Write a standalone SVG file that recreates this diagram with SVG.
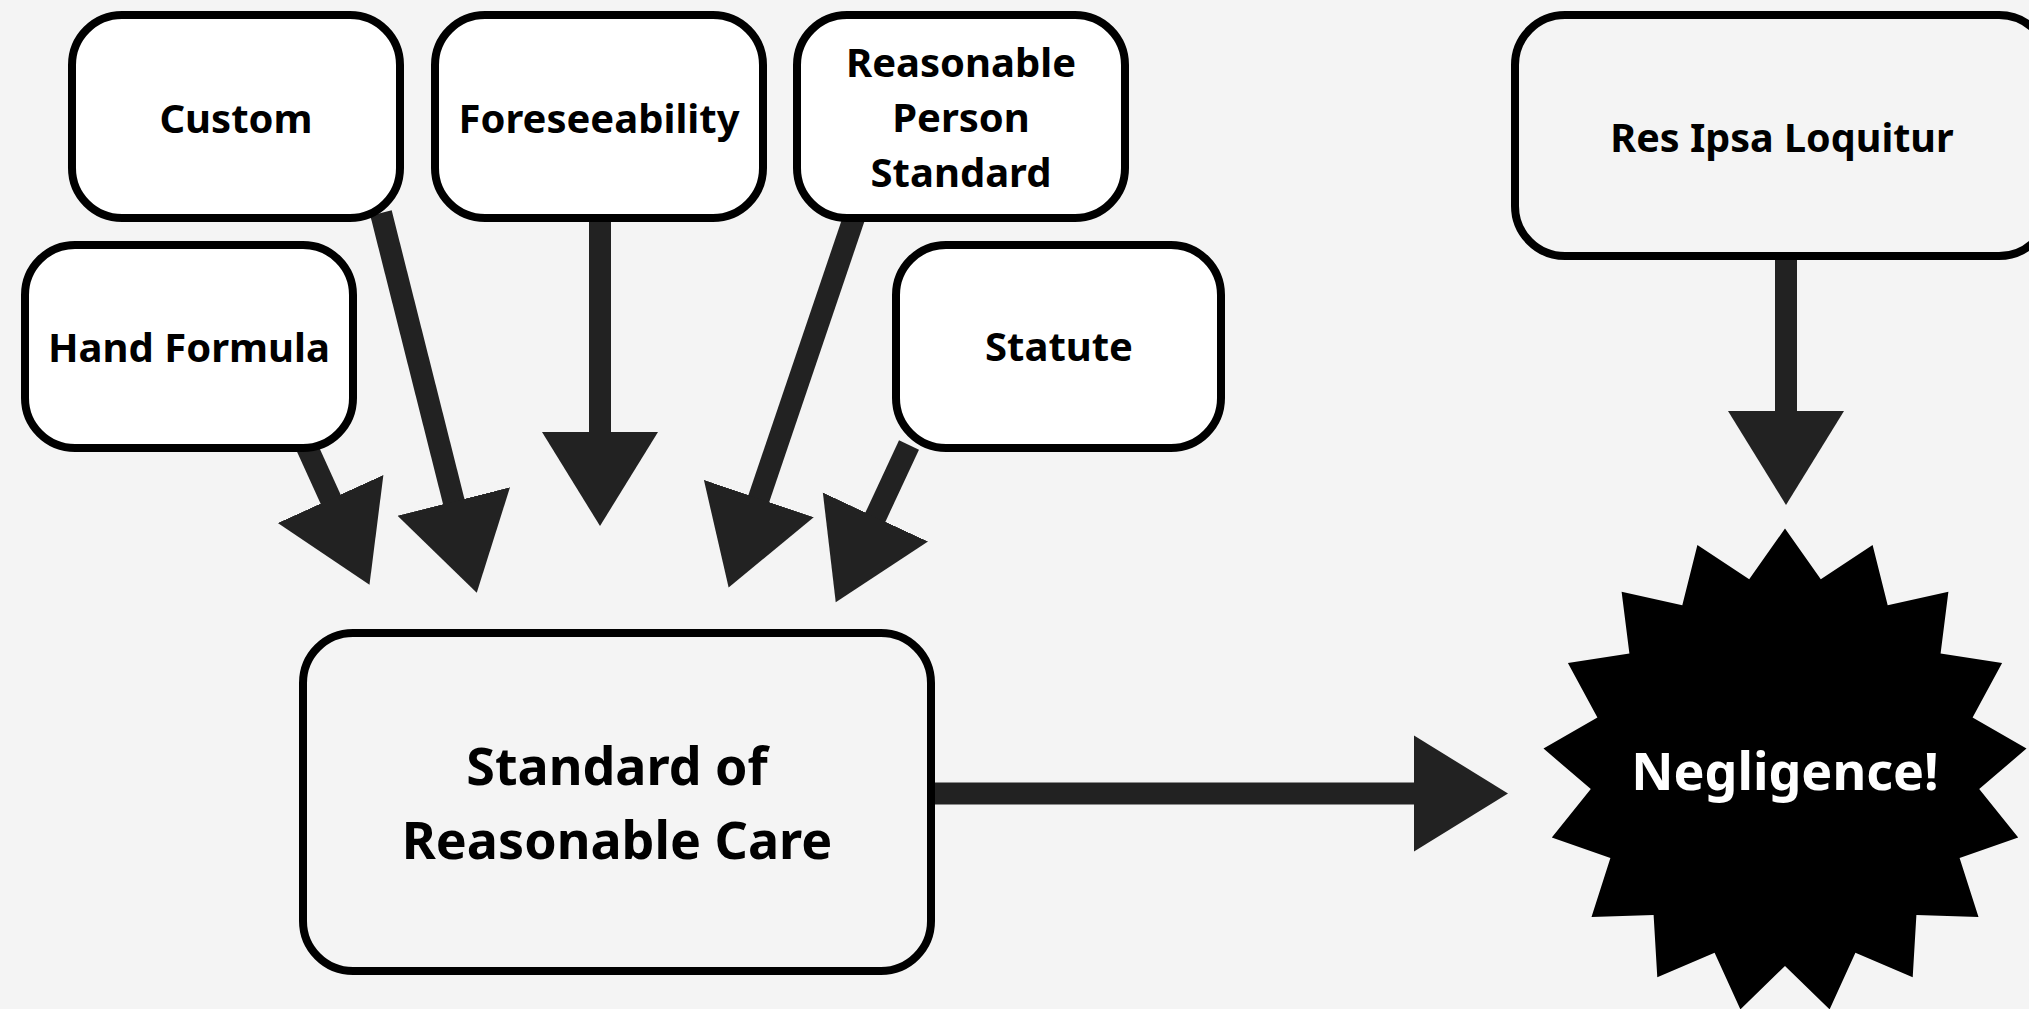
<svg xmlns="http://www.w3.org/2000/svg" width="2029" height="1009" viewBox="0 0 2029 1009">
<style>
.bg{fill:#f4f4f4}
.box{fill:#ffffff;stroke:#000000;stroke-width:8}
.boxg{fill:#f4f4f4;stroke:#000000;stroke-width:8}
.lbl{font-family:"Noto Sans","Liberation Sans",sans-serif;font-weight:700;font-size:40px;fill:#000000;text-anchor:middle}
.big{font-size:52px}
.neg{fill:#ffffff;font-size:52px}
.conn{stroke:#222222;stroke-width:22;fill:none;marker-end:url(#ah)}
</style>
<defs>
<marker id="ah" markerUnits="userSpaceOnUse" markerWidth="96" markerHeight="118" viewBox="0 0 96 118" refX="1" refY="59" orient="auto">
<path d="M0,1 L94,59 L0,117 Z" fill="#222222"/>
</marker>
</defs>
<rect class="bg" x="0" y="0" width="2029" height="1009"/>
<g id="connectors">
<line class="conn" x1="306" y1="445" x2="331" y2="500"/>
<line class="conn" x1="381" y1="213" x2="454" y2="502.5"/>
<line class="conn" x1="600" y1="215" x2="600" y2="433"/>
<line class="conn" x1="855" y1="215" x2="758.5" y2="499.5"/>
<line class="conn" x1="909" y1="445" x2="875" y2="518"/>
<line class="conn" x1="1786" y1="250" x2="1786" y2="412"/>
<line class="conn" x1="930" y1="793.5" x2="1415" y2="793.5"/>
</g>
<g id="custom">
<rect class="box" x="72" y="15" width="328" height="203" rx="50"/>
<text class="lbl" x="236" y="133">Custom</text>
</g>
<g id="foreseeability">
<rect class="box" x="435" y="15" width="328" height="203" rx="50"/>
<text class="lbl" x="599" y="133">Foreseeability</text>
</g>
<g id="reasonable-person">
<rect class="box" x="797" y="15" width="328" height="203" rx="50"/>
<text class="lbl" x="961" y="77">Reasonable</text>
<text class="lbl" x="961" y="132">Person</text>
<text class="lbl" x="961" y="187">Standard</text>
</g>
<g id="hand-formula">
<rect class="box" x="25" y="245" width="328" height="203" rx="50"/>
<text class="lbl" x="189" y="362">Hand Formula</text>
</g>
<g id="statute">
<rect class="box" x="896" y="245" width="325" height="203" rx="50"/>
<text class="lbl" x="1059" y="361">Statute</text>
</g>
<g id="res-ipsa">
<rect class="boxg" x="1515" y="15" width="534" height="241" rx="50"/>
<text class="lbl" x="1782" y="152" style="font-size:39.5px">Res Ipsa Loquitur</text>
</g>
<g id="standard">
<rect class="boxg" x="303" y="633" width="628" height="338" rx="50"/>
<text class="lbl big" x="617" y="785">Standard of</text>
<text class="lbl big" x="617" y="859">Reasonable Care</text>
</g>
<g id="negligence">
<polygon fill="#000000" points="1785,528.5 1820.8,579.3 1872.6,544.9 1887.7,605.2 1948.4,591.8 1940.6,653.5 2002.1,662.9 1972.6,717.6 2026.5,748.6 1979.2,789 2018.2,837.4 1959.6,857.9 1978.5,917.1 1916.4,915.1 1912.7,977.2 1855.4,952.8 1829.6,1009.4 1785,966 1740.4,1009.4 1714.6,952.8 1657.3,977.2 1653.6,915.1 1591.5,917.1 1610.4,857.9 1551.8,837.4 1590.8,789 1543.5,748.6 1597.4,717.6 1567.9,662.9 1629.4,653.5 1621.6,591.8 1682.3,605.2 1697.4,544.9 1749.2,579.3"/>
<text class="lbl neg" x="1785" y="790">Negligence!</text>
</g>
</svg>
